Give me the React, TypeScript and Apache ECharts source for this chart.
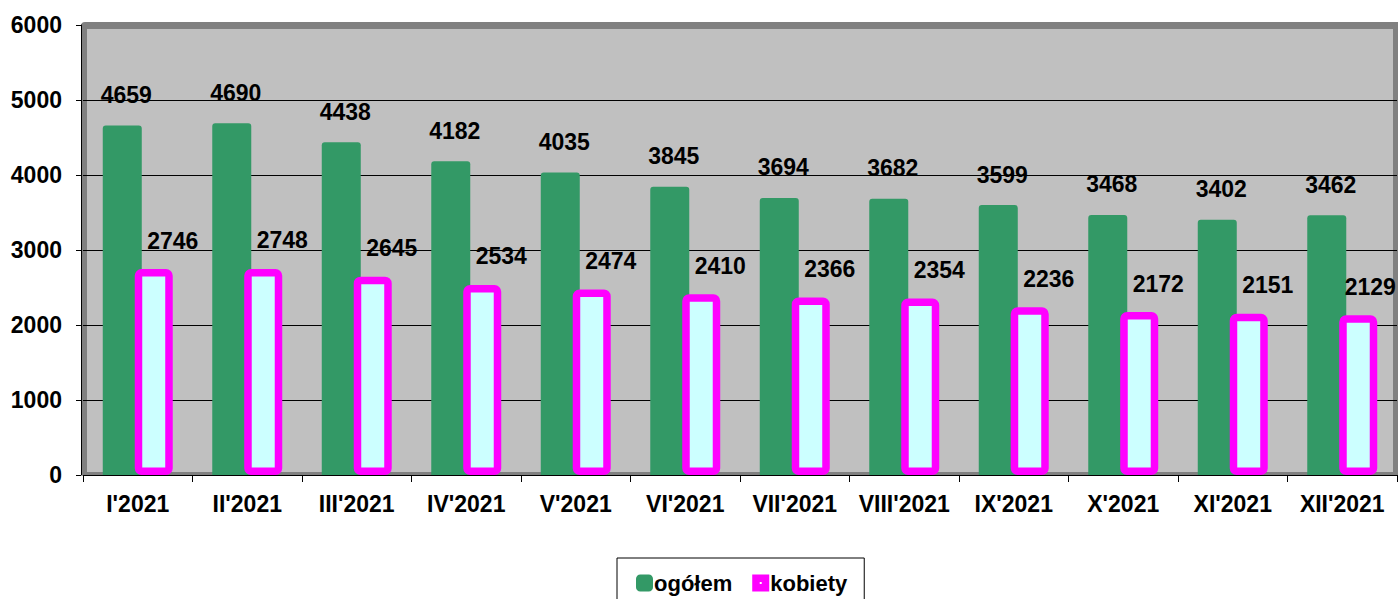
import React, { useEffect, useRef } from "react";
import * as echarts from "echarts";

const categories = ["I'2021", "II'2021", "III'2021", "IV'2021", "V'2021", "VI'2021", "VII'2021", "VIII'2021", "IX'2021", "X'2021", "XI'2021", "XII'2021"];
const ogolem = [4659, 4690, 4438, 4182, 4035, 3845, 3694, 3682, 3599, 3468, 3402, 3462];
const kobiety = [2746, 2748, 2645, 2534, 2474, 2410, 2366, 2354, 2236, 2172, 2151, 2129];
const yTicks = { min: 0, max: 6000, interval: 1000 };

const FONT = "'Liberation Sans', Arial, sans-serif";

export default function App() {
  const ref = useRef<HTMLDivElement>(null);
  useEffect(() => {
    if (!ref.current) return;
    const chart = echarts.init(ref.current, undefined, { renderer: "svg" });
    const labelStyle = {
      show: true,
      position: "top",
      color: "#000",
      fontFamily: FONT,
      fontWeight: "bold",
      fontSize: 23,
    };
    const lastIdx = kobiety.length - 1;
    chart.setOption({
      animation: false,
      backgroundColor: "#ffffff",
      textStyle: { fontFamily: FONT },
      graphic: [
        { type: "rect", z: -100, silent: true, shape: { x: 81, y: 22, width: 1317, height: 453, r: [4, 0, 0, 0] }, style: { fill: "#808080" } },
        { type: "rect", z: -99, silent: true, shape: { x: 87, y: 29, width: 1306, height: 443 }, style: { fill: "#C0C0C0" } },
      ],
      grid: { left: 83, right: 1, top: 25, bottom: 124, outerBoundsMode: "none", containLabel: false },
      legend: {
        left: 617,
        top: 558,
        padding: [14, 17, 14, 19],
        borderColor: "#000",
        borderWidth: 1,
        backgroundColor: "#fff",
        itemGap: 20,
        itemWidth: 17,
        itemHeight: 17,
        textStyle: { fontFamily: FONT, fontWeight: "bold", fontSize: 22, color: "#000", padding: [0, 0, 0, -4] },
        data: [
          { name: "ogółem", icon: "roundRect", itemStyle: { color: "#339966", borderWidth: 0 } },
          {
            name: "kobiety",
            icon: "path://M0,0H17V17H0Z M7.5,7.5V9.5H9.5V7.5Z",
            itemStyle: { color: "#FF00FF", borderWidth: 0 },
          },
        ],
      },
      xAxis: {
        type: "category",
        data: categories,
        axisLine: { show: true, lineStyle: { color: "#000", width: 1 } },
        axisTick: { show: true, length: 7, alignWithLabel: false, lineStyle: { color: "#000" } },
        axisLabel: { color: "#000", fontFamily: FONT, fontWeight: "bold", fontSize: 23, margin: 17, interval: 0 },
        splitLine: { show: false },
      },
      yAxis: {
        type: "value",
        min: yTicks.min,
        max: yTicks.max,
        interval: yTicks.interval,
        offset: 2,
        axisLine: { show: true, lineStyle: { color: "#000", width: 1 } },
        axisTick: { show: true, length: 5, lineStyle: { color: "#000" } },
        axisLabel: {
          color: "#000",
          fontFamily: FONT,
          fontWeight: "bold",
          fontSize: 23,
          margin: 19,
          formatter: (v: number) => String(v),
        },
        splitLine: {
          show: true,
          lineStyle: { color: ["#000000", "#000000", "#000000", "#000000", "#000000", "#000000", "rgba(0,0,0,0)"], width: 1 },
        },
      },
      series: [
        {
          name: "ogółem",
          type: "bar",
          data: ogolem,
          barWidth: 39,
          barGap: "-18%",
          itemStyle: { color: "#339966", borderRadius: [3, 3, 0, 0] },
          label: { ...labelStyle, distance: 19, offset: [4, 0] },
        },
        {
          name: "kobiety",
          type: "bar",
          data: kobiety.map((v, i) => (i === lastIdx ? { value: v, label: { offset: [12, 0] } } : v)),
          barWidth: 38,
          barGap: "-18%",
          itemStyle: { color: "#CCFFFF", borderColor: "#FF00FF", borderWidth: 7.5, borderRadius: 3 },
          label: { ...labelStyle, distance: 17, offset: [19, 0] },
        },
      ],
    });
    return () => chart.dispose();
  }, []);
  return <div ref={ref} style={{ position: "fixed", left: 0, top: 0, width: 1398, height: 599 }} />;
}
